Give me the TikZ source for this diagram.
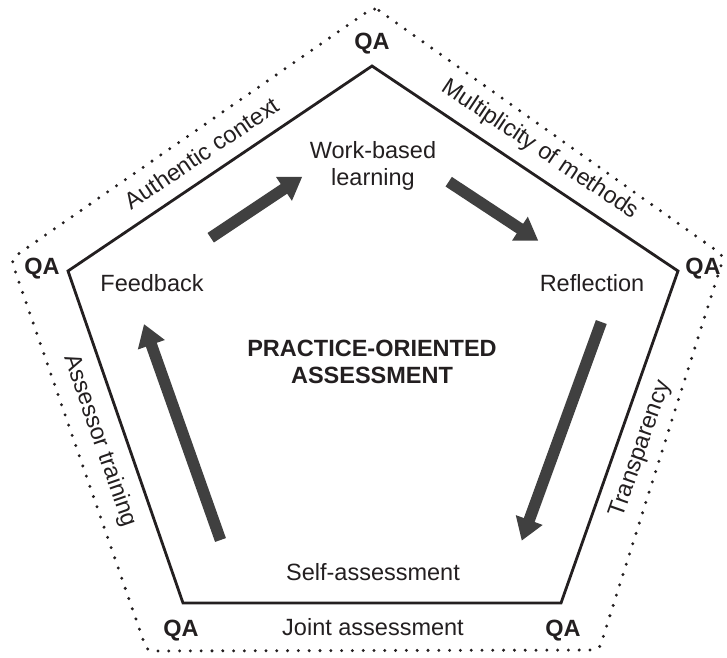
\documentclass[tikz,border=0pt]{standalone}
\usepackage{fontspec}
\setmainfont{Liberation Sans}
\usetikzlibrary{arrows.meta}
\definecolor{arrowgray}{HTML}{404040}
\definecolor{txt}{HTML}{231F20}
\begin{document}
\begin{tikzpicture}[x=1pt,y=-1pt,
  lbl/.style={font=\fontsize{23.5}{27}\selectfont, text=txt, inner sep=0pt},
  qa/.style={font=\fontsize{23.5}{27}\selectfont\bfseries, text=txt, inner sep=0pt, anchor=base},
  flow/.style={draw=arrowgray, line width=11.5pt, -{Triangle[length=22pt,width=27pt]}},
  innerpent/.style={draw=txt, line width=2.8pt, line join=miter},
  outerpent/.style={draw=txt, line width=3.3pt, line cap=round, dash pattern=on 0pt off 10.8pt, rounded corners=6pt}
]
\useasboundingbox (0,0) rectangle (727,657);

% pentagon corners
\coordinate (itop) at (372,66);
\coordinate (ileft) at (68,271);
\coordinate (iright) at (678,271);
\coordinate (ibl) at (183,603);
\coordinate (ibr) at (561,603);
\coordinate (otop) at (374,7);
\coordinate (oleft) at (11,259);
\coordinate (oright) at (724,256);
\coordinate (obl) at (147,651);
\coordinate (obr) at (599,650);

\draw[outerpent] (otop) -- (oright) -- (obr) -- (obl) -- (oleft) -- cycle;
\draw[innerpent] (itop) -- (iright) -- (ibr) -- (ibl) -- (ileft) -- cycle;

% QA labels
\node[qa] (qatop) at (372,49) {QA};
\node[qa] (qaleft) at (42,274) {QA};
\node[qa] (qaright) at (703,274) {QA};
\node[qa] (qabl) at (181,636) {QA};
\node[qa] (qabr) at (563,636) {QA};

% inner labels
\node[lbl, align=center] (wbl) at (373,165.5) {Work-based\\learning};
\node[lbl, anchor=base] (fb) at (152,291) {Feedback};
\node[lbl, anchor=base] (refl) at (592,291) {Reflection};
\node[lbl, anchor=base] (sa) at (373,580) {Self-assessment};
\node[lbl, font=\fontsize{23.5}{27}\selectfont\bfseries, align=center] (poa) at (372,362) {PRACTICE-ORIENTED\\ASSESSMENT};

% edge labels
\node[lbl, anchor=base] (ja) at (373,635) {Joint assessment};
\node[lbl, rotate=34] (auth) at (202,153) {Authentic context};
\node[lbl, rotate=-33.8] (mult) at (540,150) {Multiplicity of methods};
\node[lbl, rotate=70.6] (transp) at (641,449) {Transparency};
\node[lbl, rotate=-70.9] (assr) at (100,441) {Assessor training};

% flow arrows
\coordinate (a1s) at (210.7,237.7); \coordinate (a1e) at (302.3,176.7);
\coordinate (a2s) at (448.7,181.7); \coordinate (a2e) at (538.3,240.7);
\coordinate (a3s) at (601.3,322);   \coordinate (a3e) at (521.7,540.7);
\coordinate (a4s) at (220.5,540);   \coordinate (a4e) at (144,324);
\draw[flow] (a1s) -- (a1e);
\draw[flow] (a2s) -- (a2e);
\draw[flow] (a3s) -- (a3e);
\draw[flow] (a4s) -- (a4e);
\end{tikzpicture}
\end{document}
